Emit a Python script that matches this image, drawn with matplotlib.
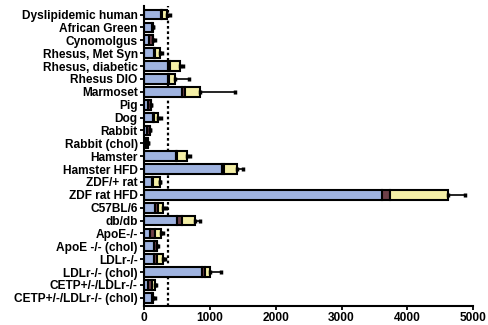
import numpy as np
import matplotlib
matplotlib.use("Agg")
import matplotlib.pyplot as plt

plt.rcParams['font.family'] = ['Liberation Sans', 'DejaVu Sans']
plt.rcParams['font.weight'] = 'bold'

models = ["Dyslipidemic human", "African Green", "Cynomolgus", "Rhesus, Met Syn",
          "Rhesus, diabetic", "Rhesus DIO", "Marmoset", "Pig", "Dog", "Rabbit",
          "Rabbit (chol)", "Hamster", "Hamster HFD", "ZDF/+ rat", "ZDF rat HFD",
          "C57BL/6", "db/db", "ApoE-/-", "ApoE -/- (chol)", "LDLr-/-",
          "LDLr-/- (chol)", "CETP+/-/LDLr-/-", "CETP+/-/LDLr-/- (chol)"]

# segment values (stacked): blue, dark middle, yellow
blue = [255, 115, 80, 155, 370, 360, 570, 60, 140, 40, 25, 485, 1180, 115, 3610,
        165, 495, 90, 150, 150, 875, 65, 115]
mid = [15, 25, 55, 15, 25, 25, 50, 40, 15, 45, 30, 20, 35, 25, 125,
       50, 75, 75, 45, 45, 45, 50, 25]
yellow = [75, 0, 0, 75, 150, 85, 230, 0, 60, 0, 0, 145, 195, 105, 885,
          80, 200, 100, 0, 100, 80, 50, 0]
err = [50, 0, 25, 25, 50, 220, 530, 0, 45, 0, 0, 50, 100, 0, 250,
       40, 75, 20, 20, 25, 175, 25, 25]
ref_line = 365

blue = np.array(blue)
mid = np.array(mid)
yellow = np.array(yellow)
total = blue + mid + yellow
y = np.arange(len(models))

fig = plt.figure(figsize=(4.88, 3.25), dpi=100)
ax = fig.add_axes([0.295, 0.058, 0.675, 0.925])

h = 0.76
ax.barh(y, blue, height=h, color="#9fb3e0", edgecolor="black", linewidth=1.5, zorder=2)
ax.barh(y, mid, left=blue, height=h, color="#6e3f48", edgecolor="black", linewidth=1.5, zorder=2)
ax.barh(y, yellow, left=blue + mid, height=h, color="#f4efa6", edgecolor="black", linewidth=1.5, zorder=2)
ax.errorbar(total, y, xerr=[np.zeros(len(err)), err], fmt="none", ecolor="black",
            elinewidth=1.2, capsize=1.5, capthick=2.5, zorder=3)

ax.axvline(ref_line, color="black", linestyle=(0, (1.2, 1.2)), linewidth=1.6, zorder=1)

ax.set_xlim(0, 5000)
ax.set_ylim(22.65, -0.7)
ax.set_xticks([0, 1000, 2000, 3000, 4000, 5000])
ax.set_yticks(y)
ax.set_yticklabels(models)
ax.tick_params(axis="both", labelsize=8.6, width=1.3, length=3, pad=1.5)
for lab in ax.get_xticklabels() + ax.get_yticklabels():
    lab.set_fontweight("bold")
ax.spines["top"].set_visible(False)
ax.spines["right"].set_visible(False)
ax.spines["left"].set_linewidth(1.5)
ax.spines["bottom"].set_linewidth(1.5)

fig.savefig("out.png", dpi=100)
